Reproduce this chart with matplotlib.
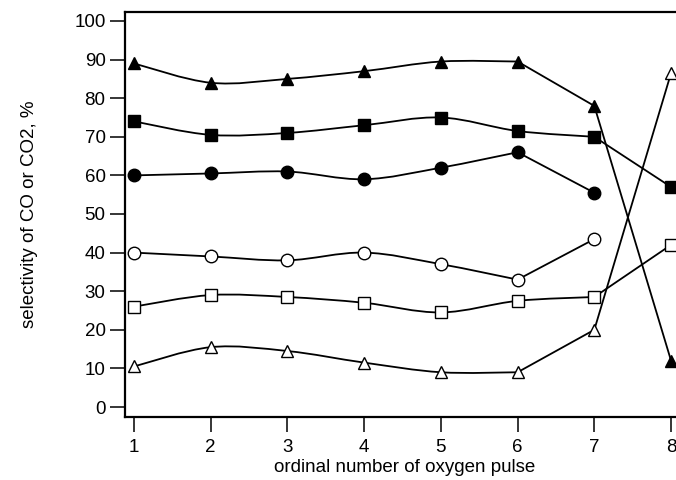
import numpy as np
import matplotlib
matplotlib.use("Agg")
import matplotlib.pyplot as plt
from matplotlib.path import Path
from matplotlib.patches import PathPatch

plt.rcParams["font.family"] = ["Liberation Sans", "DejaVu Sans"]

pulses = [1, 2, 3, 4, 5, 6, 7, 8]

tri_filled = [89, 84, 85, 87, 89.5, 89.5, 78, 12]
sq_filled = [74, 70.5, 71, 73, 75, 71.5, 70, 57]
circ_filled = [60, 60.5, 61, 59, 62, 66, 55.5]
circ_open = [40, 39, 38, 40, 37, 33, 43.5]
sq_open = [26, 29, 28.5, 27, 24.5, 27.5, 28.5, 42]
tri_open = [10.5, 15.5, 14.5, 11.5, 9, 9, 20, 86.5]

# (values, marker, filled, last index of the smooth part)
series = [
    (tri_filled, "^", True, 5),
    (sq_filled, "s", True, 6),
    (circ_filled, "o", True, 5),
    (circ_open, "o", False, 5),
    (sq_open, "s", False, 6),
    (tri_open, "^", False, 5),
]


def curve_path(xs, ys, smooth_end):
    pts = np.column_stack([xs, ys]).astype(float)
    verts = [pts[0]]
    codes = [Path.MOVETO]
    for i in range(len(pts) - 1):
        if i < smooth_end:
            p0 = pts[max(i - 1, 0)]
            p1 = pts[i]
            p2 = pts[i + 1]
            p3 = pts[min(i + 2, smooth_end)]
            c1 = p1 + (p2 - p0) / 6
            c2 = p2 - (p3 - p1) / 6
            verts += [c1, c2, p2]
            codes += [Path.CURVE4] * 3
        else:
            verts.append(pts[i + 1])
            codes.append(Path.LINETO)
    return Path(verts, codes)


def main():
    fig = plt.figure(figsize=(6.76, 4.80), dpi=100)
    ax = fig.add_axes([125 / 676, 63 / 480, 560 / 676, 405 / 480])

    for vals, mk, filled, smooth_end in series:
        xs = pulses[:len(vals)]
        ax.add_patch(PathPatch(curve_path(xs, vals, smooth_end),
                               facecolor="none", edgecolor="black", lw=1.3, zorder=2))
        ax.plot(xs, vals, linestyle="none", marker=mk, markersize=9,
                markerfacecolor="black" if filled else "white",
                markeredgecolor="black", markeredgewidth=1.0, zorder=3)

    ax.set_xlim(1 - 9 / 77, 8 + 14 / 77)
    ax.set_ylim(-10 / 3.86, 100 + 9 / 3.86)
    ax.set_xticks(pulses)
    ax.set_yticks(range(0, 101, 10))

    ax.spines["right"].set_visible(False)
    for side in ["left", "bottom", "top"]:
        ax.spines[side].set_linewidth(1.6)

    ax.tick_params(direction="out", length=11, width=1.1, labelsize=13.5)
    ax.tick_params(axis="x", pad=5)
    ax.tick_params(axis="y", pad=3)
    ax.set_xlabel("ordinal number of oxygen pulse", fontsize=13.5, labelpad=2)
    ax.set_ylabel("selectivity of CO or CO2, %", fontsize=13.5, labelpad=26)

    fig.savefig("out.png", dpi=100)


main()
